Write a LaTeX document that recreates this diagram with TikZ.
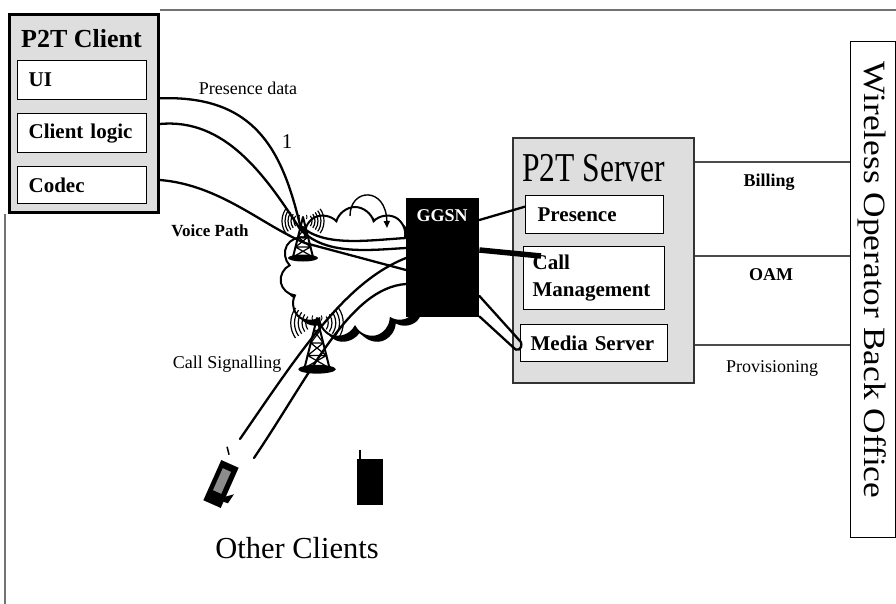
\documentclass[tikz,border=0pt]{standalone}
\usepackage{fontspec}
\setmainfont{Liberation Serif}
\usetikzlibrary{calc,shapes.symbols,arrows.meta}

\begin{document}
\begin{tikzpicture}[x=1pt,y=-1pt,
  txt/.style={inner sep=0pt},
  f18/.style={font=\fontsize{18}{22}\selectfont},
  b18/.style={font=\bfseries\fontsize{18}{22}\selectfont},
  b17/.style={font=\bfseries\fontsize{17}{21}\selectfont},
  b21/.style={font=\bfseries\fontsize{21}{27}\selectfont},
  framebox/.style={draw=black!55, line width=1.3},
  outerbox/.style={draw, fill=black!13, anchor=north west},
  subbox/.style={draw, line width=1.3, fill=white, anchor=north west, align=left, b21},
  wire/.style={line width=2.3, line cap=round},
  bline/.style={draw=black!70, line width=2},
  tower/.pic={
    \draw[line width=2, line join=round] (-10,40) -- (0,0) -- (10,40);
    \draw[line width=1.2] (-2.5,10) -- (2.5,10) (-5,20) -- (5,20) (-7.5,30) -- (7.5,30)
      (-2.5,10) -- (5,20) -- (-7.5,30) -- (10,40)
      (2.5,10) -- (-5,20) -- (7.5,30) -- (-10,40);
    \fill (0,41) ellipse [x radius=15, y radius=3.5];
    \foreach \r in {9,12,15,18,21} {
      \draw[line width=1.2] ([shift={(145:\r)}]0,4) arc[start angle=145, end angle=215, radius=\r];
      \draw[line width=1.2] ([shift={(-35:\r)}]0,4) arc[start angle=-35, end angle=35, radius=\r];
    }
    \draw[line width=0.9] ([shift={(150:4)}]0,0) arc[start angle=150, end angle=210, radius=4]
                          ([shift={(-30:4)}]0,0) arc[start angle=-30, end angle=30, radius=4];
  }
]
\useasboundingbox (0,0) rectangle (896,604);

% outer frame edges
\coordinate (ftr) at (896,10);
\coordinate (fbl) at (5,604);

% ---------- P2T client ----------
\node[outerbox, line width=3, minimum width=149, minimum height=198] (client) at (8,13) {};
\draw[framebox] (client.north east |- ftr) -- (ftr);
\draw[framebox] (client.south west -| fbl) -- (fbl);
\node[txt, anchor=west, font=\bfseries\fontsize{26}{30}\selectfont] (ctitle) at (21,39) {P2T Client};
\node[subbox, minimum width=129, minimum height=39, inner xsep=11, text width=107] (ui) at (17,60) {UI};
\node[subbox, minimum width=129, minimum height=39, inner xsep=11, text width=107] (logic) at (17,113) {Client logic};
\node[subbox, minimum width=129, minimum height=37, inner xsep=11, text width=107] (codec) at (17,166) {Codec};

\coordinate (p1) at ($(client.east |- ui.south)+(0,-2)$);
\coordinate (p2) at ($(client.east |- logic.north)+(0,11)$);
\coordinate (p3) at ($(client.east |- codec.north)+(0,14)$);

% ---------- cloud with towers ----------
\node[cloud, cloud puffs=11, cloud ignores aspect, fill=black, minimum width=150, minimum height=132] (cloudshadow) at (360,278) {};
\node[cloud, cloud puffs=11, cloud ignores aspect, draw, line width=2, fill=white, minimum width=150, minimum height=132] (cloud) at (355,273) {};
\draw[line width=1.4, -{Triangle[length=7,width=6]}] (350,216) .. controls (350,188) and (386,186) .. (387,228);
\pic at (303,217) {tower};
\pic[scale=1.25] at (317,318) {tower};

% ---------- GGSN ----------
\node[fill=black, minimum width=73, minimum height=119, anchor=north west] (ggsn) at (406,198) {};

% client paths through the tower
\draw[wire] (p1) .. controls (255,95) and (282,150) .. (300,225)
            .. controls (322,248) and (370,240) .. ($(ggsn.north west)+(0,40)$);
\draw[wire] (p2) .. controls (225,118) and (265,175) .. (300,229)
            .. controls (325,256) and (370,250) .. ($(ggsn.north west)+(0,50)$);
\draw[wire] (p3) .. controls (220,185) and (262,225) .. (305,243) -- ($(ggsn.north west)+(0,72)$);

% ---------- other clients ----------
\node[fill=black, rotate=-24, minimum width=19, minimum height=44, inner sep=0] (ph1) at (221,484) {};
\node[fill=black!45, rotate=-24, minimum width=9, minimum height=24, inner sep=0] (ph1screen) at (222,481) {};
\fill[black] ($(ph1.south)+(4,-5)$) -- ($(ph1.south)+(22,-10)$) -- ($(ph1.south)+(16,-1)$) -- cycle;
\draw[line width=1.5] ($(ph1.north)+(-1,-9)$) -- ($(ph1.north)+(-3,-17)$);
\node[fill=black, minimum width=26, minimum height=46, inner sep=0] (ph2) at (370,482) {};
\draw[line width=1.6] ($(ph2.north west)+(3,0)$) -- ($(ph2.north west)+(3,-9)$);

\coordinate (sigA) at (240,439);
\coordinate (sigB) at (254,458);
\draw[wire] (sigA) .. controls (300,352) and (345,282) .. ($(ggsn.north west)+(0,60)$);
\draw[wire] (sigB) .. controls (312,372) and (350,288) .. ($(ggsn.north west)+(0,86)$);

\node[txt, white, b18] (ggsnlabel) at (442,216) {GGSN};

% ---------- P2T server ----------
\node[outerbox, draw=black!80, line width=2, minimum width=181, minimum height=245] (server) at (512,137) {};
\node[txt, anchor=west, font=\fontsize{41}{44}\selectfont] (stitle) at (522,168) {\scalebox{0.77}[1]{P2T Server}};
\node[subbox, minimum width=138, minimum height=38, inner xsep=12, text width=114] (pres) at (525,195) {Presence};
\node[subbox, minimum width=141, minimum height=63, inner xsep=9, text width=123] (cm) at (523,246) {Call\\Management};
\node[subbox, minimum width=147, minimum height=37, inner xsep=10, text width=127] (media) at (520,324) {Media Server};

% GGSN to server components
\draw[wire] ($(ggsn.north east)+(0,22)$) -- ($(pres.west)+(0,-8)$);
\draw[line width=5.5] ($(ggsn.north east)+(0,52)$) -- ($(cm.north west)+(18,10)$);
\draw[wire, line join=round] ($(ggsn.north east)+(0,98)$) -- ($(media.west)+(1,-1)$)
   .. controls ($(media.west)+(3,7)$) and ($(media.west)+(-4,9)$) .. ($(media.west)+(-7,4)$)
   -- ($(ggsn.south east)+(0,-1)$);

% ---------- back office ----------
\node[draw, line width=1.2, fill=white, minimum width=45, minimum height=496, anchor=north west] (bo) at (850,41) {};
\node[txt, rotate=-90, font=\fontsize{31}{34}\selectfont] (botext) at (872,280) {\scalebox{1.14}[1]{Wireless Operator Back Office}};

\draw[bline] ($(server.north east)+(0,25)$) -- ($(bo.west |- server.north east)+(0,25)$);
\draw[bline] ($(server.north east)+(0,119)$) -- ($(bo.west |- server.north east)+(0,119)$);
\draw[bline] ($(server.north east)+(0,208)$) -- ($(bo.west |- server.north east)+(0,208)$);

% ---------- labels ----------
\node[txt, f18] (presdata) at (248,88) {Presence data};
\node[txt, font=\fontsize{21}{24}\selectfont] (one) at (287,142) {1};
\node[txt, b17] (voice) at (210,231) {Voice Path};
\node[txt, f18] (signal) at (227,364) {Call Signalling};
\node[txt, b18] (billing) at (769,182) {Billing};
\node[txt, b18] (oam) at (771,275) {OAM};
\node[txt, f18] (prov) at (772,368) {Provisioning};
\node[txt, font=\fontsize{30.5}{34}\selectfont] (others) at (297,548) {Other Clients};

\end{tikzpicture}
\end{document}
